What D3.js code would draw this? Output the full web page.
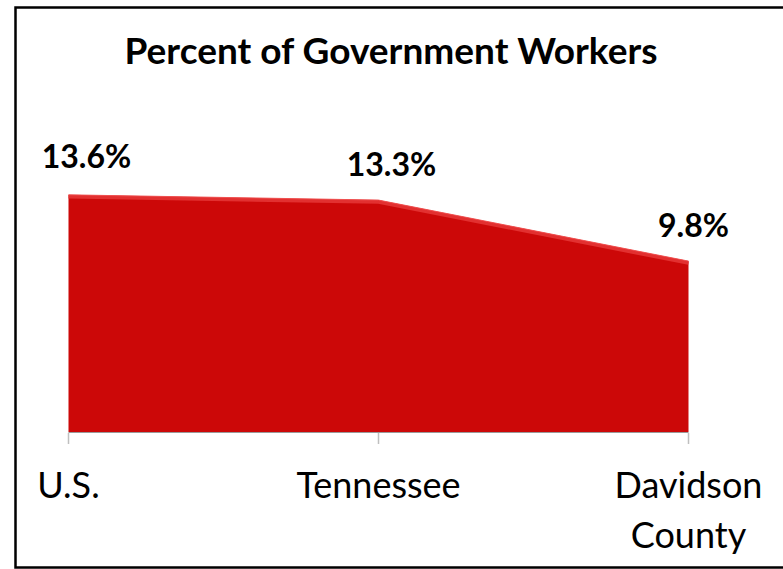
<!DOCTYPE html>
<html>
<head>
<meta charset="utf-8">
<script src="https://cdn.jsdelivr.net/npm/d3@7"></script>
<style>
  html, body { margin: 0; padding: 0; background: white; }
  svg { display: block; }
</style>
</head>
<body>
<div id="chart"></div>
<script>
// data
const categories = ["U.S.", "Tennessee", "Davidson County"];
const percentGov = [13.6, 13.3, 9.8];
const valueLabels = ["13.6%", "13.3%", "9.8%"];
const chartTitle = "Percent of Government Workers";

{
    const width = 783;
    const height = 569;
    const font = "Lato, 'Open Sans', sans-serif";

    const svg = d3.select("#chart")
        .append("svg")
        .attr("width", width)
        .attr("height", height);

    // outer frame (right side runs off the picture)
    svg.append("rect")
        .attr("x", 15.5)
        .attr("y", 7.5)
        .attr("width", 820)
        .attr("height", 560)
        .attr("fill", "none")
        .attr("stroke", "#000")
        .attr("stroke-width", 2.5);

    // plot area
    let x = d3.scalePoint()
        .domain(categories)
        .range([68.5, 688.5]);

    let y = d3.scaleLinear()
        .domain([0, 16])
        .range([432, 153]);

    let area = d3.area()
        .x((d, i) => x(categories[i]))
        .y0(y(0))
        .y1(d => y(d));

    let line = d3.line()
        .x((d, i) => x(categories[i]))
        .y(d => y(d));

    // soft shadow under the bottom edge
    svg.append("line")
        .attr("x1", x(categories[0]))
        .attr("x2", x(categories[2]))
        .attr("y1", y(0) + 0.5)
        .attr("y2", y(0) + 0.5)
        .attr("stroke", "#9a9a9a")
        .attr("stroke-width", 1.2);

    svg.append("path")
        .datum(percentGov)
        .attr("d", area)
        .attr("fill", "#cc0808");

    // bevel highlight along the top
    svg.append("path")
        .datum(percentGov)
        .attr("d", line)
        .attr("transform", "translate(0,2)")
        .attr("fill", "none")
        .attr("stroke", "#e23030")
        .attr("stroke-width", 3.5);

    svg.append("path")
        .datum(percentGov)
        .attr("d", line)
        .attr("fill", "none")
        .attr("stroke", "#f05050")
        .attr("stroke-width", 1);

    // category axis ticks
    svg.selectAll(".tick")
        .data(categories)
        .enter().append("line")
        .attr("class", "tick")
        .attr("x1", d => x(d))
        .attr("x2", d => x(d))
        .attr("y1", y(0) + 1)
        .attr("y2", y(0) + 12)
        .attr("stroke", "#bfbfbf")
        .attr("stroke-width", 1.5);

    // category labels (wrap on space for the last one)
    let catLabels = svg.selectAll(".cat-label")
        .data(categories)
        .enter().append("text")
        .attr("class", "cat-label")
        .attr("text-anchor", "middle")
        .attr("font-family", font)
        .attr("font-size", 36)
        .attr("fill", "#000")
        .attr("x", d => x(d))
        .attr("y", 498);

    catLabels.each(function (d) {
        let words = d === "Davidson County" ? d.split(" ") : [d];
        let t = d3.select(this);
        words.forEach((w, i) => {
            t.append("tspan")
                .attr("x", x(d))
                .attr("dy", i === 0 ? 0 : 50)
                .text(w);
        });
    });

    // value labels
    const nudgeX = [18, 13, 5];
    const nudgeY = [-27, -24, -24];
    svg.selectAll(".val-label")
        .data(percentGov)
        .enter().append("text")
        .attr("class", "val-label")
        .attr("text-anchor", "middle")
        .attr("font-family", font)
        .attr("font-weight", "bold")
        .attr("font-size", 32)
        .attr("x", (d, i) => x(categories[i]) + nudgeX[i])
        .attr("y", (d, i) => y(d) + nudgeY[i])
        .text((d, i) => valueLabels[i]);

    // title
    svg.append("text")
        .attr("x", 391)
        .attr("y", 64)
        .attr("text-anchor", "middle")
        .attr("font-family", font)
        .attr("font-weight", "bold")
        .attr("font-size", 37)
        .text(chartTitle);
}
</script>
</body>
</html>
